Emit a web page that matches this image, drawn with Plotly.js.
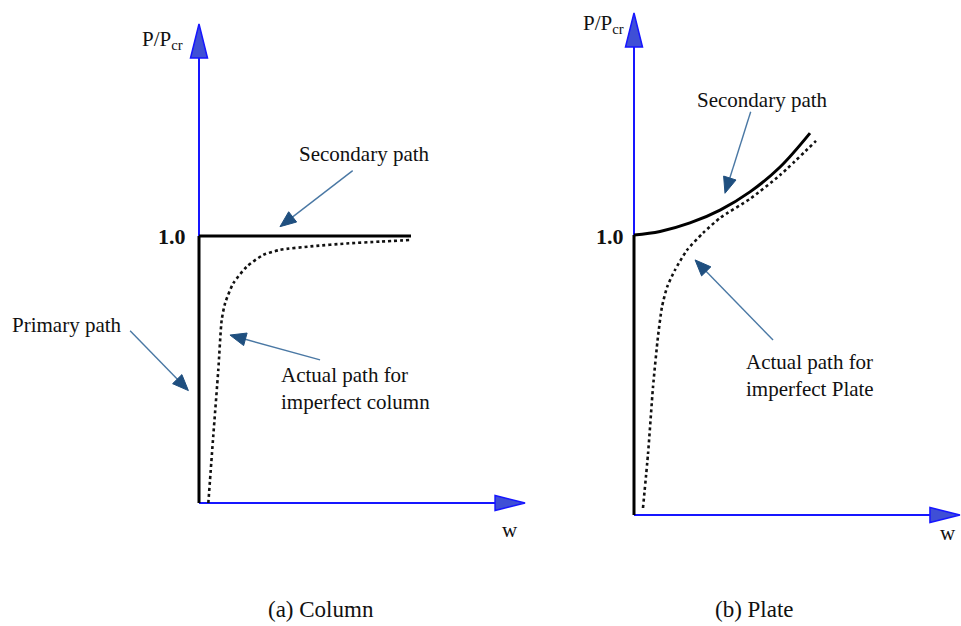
<!DOCTYPE html>
<html>
<head>
<meta charset="utf-8">
<script src="https://cdn.plot.ly/plotly-3.0.1.min.js"></script>
<style>
  html, body { margin: 0; padding: 0; background: #fff; }
  #chart { width: 961px; height: 626px; }
</style>
</head>
<body>
<div id="chart"></div>
<script>
// ---- Load-deflection paths, w vs P/Pcr ----
// (a) Column
const wPrimaryColumn = [0, 0];
const pPrimaryColumn = [0, 1.0];
const wSecondaryColumn = [0, 1.0];
const pSecondaryColumn = [1.0, 1.0];
const wActualColumn = [0.044, 0.067, 0.091, 0.107, 0.123, 0.162, 0.225, 0.303, 0.382, 0.539, 0.696, 0.854, 0.995];
const pActualColumn = [0.0, 0.248, 0.498, 0.685, 0.748, 0.823, 0.885, 0.929, 0.948, 0.962, 0.972, 0.979, 0.985];

// (b) Plate
const wPrimaryPlate = [0, 0];
const pPrimaryPlate = [0, 1.0];
const wSecondaryPlate = [0, 0.148, 0.318, 0.489, 0.659, 0.830, 1.0];
const pSecondaryPlate = [1.0, 1.0125, 1.043, 1.089, 1.154, 1.243, 1.364];
const wActualPlate = [0.051, 0.080, 0.108, 0.136, 0.159, 0.188, 0.233, 0.301, 0.392, 0.489, 0.659, 0.830, 1.034];
const pActualPlate = [0.025, 0.221, 0.457, 0.636, 0.743, 0.814, 0.875, 0.946, 1.007, 1.061, 1.129, 1.214, 1.336];

// Text
const axisLabelP = 'P/P<sub>cr</sub>';
const axisLabelW = 'w';
const levelLabel = '1.0';
const captions = ['(a) Column', '(b) Plate'];
const labelSecondary = 'Secondary path';
const labelPrimary = 'Primary path';
const labelActualColumn = 'Actual path for<br>imperfect column';
const labelActualPlate = 'Actual path for<br>imperfect Plate';

// ---- Panel geometry (origin in px, px per unit) ----
const W = 961, H = 626;
const panelA = { xref: 'x',  yref: 'y',  ox: 199, oy: 503, sx: 212, sy: 267, xTip: 1.538, yTip: 1.794 };
const panelB = { xref: 'x2', yref: 'y2', ox: 634, oy: 515, sx: 176, sy: 280, xTip: 1.852, yTip: 1.793 };

function toPx(pn, w, p) { return [pn.ox + w * pn.sx, pn.oy - p * pn.sy]; }
function toData(pn, x, y) { return [(x - pn.ox) / pn.sx, (pn.oy - y) / pn.sy]; }
function xRange(pn) { return [-pn.ox / pn.sx, (W - pn.ox) / pn.sx]; }
function yRange(pn) { return [(pn.oy - H) / pn.sy, pn.oy / pn.sy]; }

const AXIS_BLUE = '#1616ff';
const HEAD_FILL = '#3f4fd6';
const POINTER_LINE = '#4a78a4';
const POINTER_HEAD = '#1f4f7f';
const FONT = 'Liberation Serif, Times New Roman, serif';

function pathFromPx(pn, pts) {
  return 'M' + pts.map(function (q) {
    const d = toData(pn, q[0], q[1]);
    return d[0].toFixed(5) + ',' + d[1].toFixed(5);
  }).join(' L') + ' Z';
}

// Blue axis with a triangular head
function axisShapes(pn) {
  const out = [];
  const yHeadLen = 34, yHalf = 8.5, xHeadLen = 30, xHalf = 7.5;
  const yTipPx = toPx(pn, 0, pn.yTip);
  const xTipPx = toPx(pn, pn.xTip, 0);
  const yBase = toData(pn, yTipPx[0], yTipPx[1] + yHeadLen);
  const xBase = toData(pn, xTipPx[0] - xHeadLen, xTipPx[1]);
  out.push({ type: 'line', xref: pn.xref, yref: pn.yref, x0: 0, y0: 0, x1: 0, y1: yBase[1],
             line: { color: AXIS_BLUE, width: 2 }, layer: 'below' });
  out.push({ type: 'line', xref: pn.xref, yref: pn.yref, x0: 0, y0: 0, x1: xBase[0], y1: 0,
             line: { color: AXIS_BLUE, width: 2 }, layer: 'below' });
  out.push({ type: 'path', xref: pn.xref, yref: pn.yref, layer: 'below',
             path: pathFromPx(pn, [yTipPx, [yTipPx[0] - yHalf, yTipPx[1] + yHeadLen], [yTipPx[0] + yHalf, yTipPx[1] + yHeadLen]]),
             fillcolor: HEAD_FILL, line: { color: AXIS_BLUE, width: 1.5 } });
  out.push({ type: 'path', xref: pn.xref, yref: pn.yref, layer: 'below',
             path: pathFromPx(pn, [xTipPx, [xTipPx[0] - xHeadLen, xTipPx[1] - xHalf], [xTipPx[0] - xHeadLen, xTipPx[1] + xHalf]]),
             fillcolor: HEAD_FILL, line: { color: AXIS_BLUE, width: 1.5 } });
  return out;
}

// Leader arrow from a label to a path
function pointer(pn, tail, tip) {
  const a = toPx(pn, tail[0], tail[1]);
  const b = toPx(pn, tip[0], tip[1]);
  const dx = b[0] - a[0], dy = b[1] - a[1];
  const len = Math.hypot(dx, dy);
  const ux = dx / len, uy = dy / len, nx = -uy, ny = ux;
  const L = 16, hw = 6.5;
  const base = [b[0] - ux * L, b[1] - uy * L];
  const baseD = toData(pn, base[0] + ux * 2, base[1] + uy * 2);
  return [
    { type: 'line', xref: pn.xref, yref: pn.yref, x0: tail[0], y0: tail[1], x1: baseD[0], y1: baseD[1],
      line: { color: POINTER_LINE, width: 1.4 } },
    { type: 'path', xref: pn.xref, yref: pn.yref,
      path: pathFromPx(pn, [b, [base[0] + nx * hw, base[1] + ny * hw], [base[0] - nx * hw, base[1] - ny * hw]]),
      fillcolor: POINTER_HEAD, line: { color: POINTER_HEAD, width: 1 } }
  ];
}

function label(pn, text, w, p, opts) {
  return Object.assign({
    xref: pn.xref, yref: pn.yref, x: w, y: p, text: text, showarrow: false,
    xanchor: 'center', yanchor: 'middle', align: 'center',
    font: { family: FONT, size: 21, color: '#111' }
  }, opts || {});
}

const solid = { color: '#000', width: 3 };
const dotted = { color: '#111', width: 2.6, dash: 'dot', shape: 'spline', smoothing: 0.6 };

const traces = [
  { x: wPrimaryColumn, y: pPrimaryColumn, xaxis: 'x', yaxis: 'y', mode: 'lines', line: solid },
  { x: wSecondaryColumn, y: pSecondaryColumn, xaxis: 'x', yaxis: 'y', mode: 'lines', line: solid },
  { x: wActualColumn, y: pActualColumn, xaxis: 'x', yaxis: 'y', mode: 'lines', line: dotted },
  { x: wPrimaryPlate, y: pPrimaryPlate, xaxis: 'x2', yaxis: 'y2', mode: 'lines', line: solid },
  { x: wSecondaryPlate, y: pSecondaryPlate, xaxis: 'x2', yaxis: 'y2', mode: 'lines',
    line: { color: '#000', width: 3, shape: 'spline', smoothing: 1 } },
  { x: wActualPlate, y: pActualPlate, xaxis: 'x2', yaxis: 'y2', mode: 'lines', line: dotted }
];

const shapes = [].concat(
  axisShapes(panelA), axisShapes(panelB),
  pointer(panelA, [0.725, 1.245], [0.382, 1.035]),
  pointer(panelA, [-0.325, 0.645], [-0.050, 0.421]),
  pointer(panelA, [0.571, 0.536], [0.146, 0.629]),
  pointer(panelB, [0.663, 1.440], [0.517, 1.149]),
  pointer(panelB, [0.790, 0.625], [0.347, 0.911])
);

const boldLevel = { xanchor: 'right', text: '<b>' + levelLabel + '</b>', font: { family: FONT, size: 22, color: '#111' } };
const captionFont = { font: { family: FONT, size: 23, color: '#111' } };
const leftBlock = { xanchor: 'left', align: 'left' };

const annotations = [
  label(panelA, axisLabelP, -0.066, 1.734, { xanchor: 'right' }),
  label(panelA, levelLabel, -0.052, 0.998, boldLevel),
  label(panelA, labelSecondary, 0.781, 1.3075),
  label(panelA, labelPrimary, -0.623, 0.665),
  label(panelA, labelActualColumn, 0.377, 0.4275, leftBlock),
  label(panelA, axisLabelW, 1.467, -0.101),
  label(panelA, captions[0], 0.575, -0.397, captionFont),
  label(panelB, axisLabelP, -0.045, 1.754, { xanchor: 'right' }),
  label(panelB, levelLabel, -0.045, 0.996, boldLevel),
  label(panelB, labelSecondary, 0.730, 1.482),
  label(panelB, labelActualPlate, 0.625, 0.497, leftBlock),
  label(panelB, axisLabelW, 1.784, -0.064),
  label(panelB, captions[1], 0.682, -0.336, captionFont)
];

function hiddenAxis(range, anchor) {
  return { domain: [0, 1], range: range, visible: false, fixedrange: true, anchor: anchor };
}

const layout = {
  width: W, height: H,
  margin: { l: 0, r: 0, t: 0, b: 0, pad: 0 },
  paper_bgcolor: '#fff',
  plot_bgcolor: 'rgba(0,0,0,0)',
  showlegend: false,
  xaxis: hiddenAxis(xRange(panelA), 'y'),
  yaxis: hiddenAxis(yRange(panelA), 'x'),
  xaxis2: hiddenAxis(xRange(panelB), 'y2'),
  yaxis2: hiddenAxis(yRange(panelB), 'x2'),
  shapes: shapes,
  annotations: annotations
};

Plotly.newPlot('chart', traces, layout, { displayModeBar: false, staticPlot: true });
</script>
</body>
</html>
